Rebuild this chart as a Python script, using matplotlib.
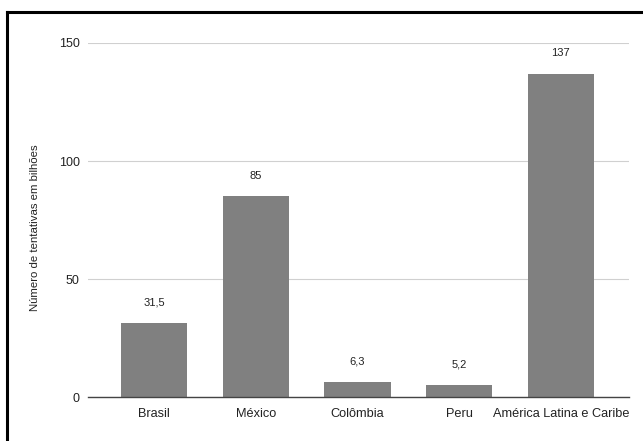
import matplotlib
matplotlib.use("Agg")
import matplotlib.pyplot as plt
from matplotlib.lines import Line2D

categories = ["Brasil", "México", "Colômbia", "Peru", "América Latina e Caribe"]
values = [31.5, 85, 6.3, 5.2, 137]
value_labels = ["31,5", "85", "6,3", "5,2", "137"]
yticks = [0, 50, 100, 150]

plt.rcParams["font.family"] = ["Liberation Sans", "DejaVu Sans"]

fig = plt.figure(figsize=(6.43, 4.41), dpi=100)
ax = fig.add_axes([88 / 643, 1 - 397 / 441, 541 / 643, 354 / 441])

x = list(range(len(categories)))
bars = ax.bar(x, values, width=0.65, color="#808080", zorder=3)
for rect, lab in zip(bars, value_labels):
    ax.annotate(lab, (rect.get_x() + rect.get_width() / 2, rect.get_height()),
                xytext=(0, 11), textcoords="offset points",
                ha="center", va="bottom", fontsize=8, color="#222222")

ax.set_xlim(-0.65, 4.67)
ax.set_ylim(0, 150)
ax.set_xticks(x)
ax.set_xticklabels(categories, fontsize=9.2, color="#222222")
ax.set_yticks(yticks)
ax.set_yticklabels([str(t) for t in yticks], fontsize=9, color="#222222")
ax.tick_params(axis="both", length=0)
ax.tick_params(axis="x", pad=8)
ax.tick_params(axis="y", pad=6)
ax.grid(axis="y", color="#d0d0d0", linewidth=0.8, zorder=0)
for s in ["top", "right", "left"]:
    ax.spines[s].set_visible(False)
ax.spines["bottom"].set_color("#444444")
ax.spines["bottom"].set_linewidth(1.0)
ax.spines["bottom"].set_zorder(4)

fig.text(35 / 643, 1 - 228 / 441, "Número de tentativas em bilhões", rotation=90,
         ha="center", va="center", fontsize=8.2, color="#222222")

# black frame on left and top edges
fig.add_artist(Line2D([7 / 643, 7 / 643], [0, 1 - 12 / 441], transform=fig.transFigure,
                      color="black", linewidth=2.2, solid_capstyle="projecting"))
fig.add_artist(Line2D([7 / 643, 1], [1 - 12 / 441, 1 - 12 / 441], transform=fig.transFigure,
                      color="black", linewidth=2.2, solid_capstyle="projecting"))

fig.savefig("out.png", dpi=100)
